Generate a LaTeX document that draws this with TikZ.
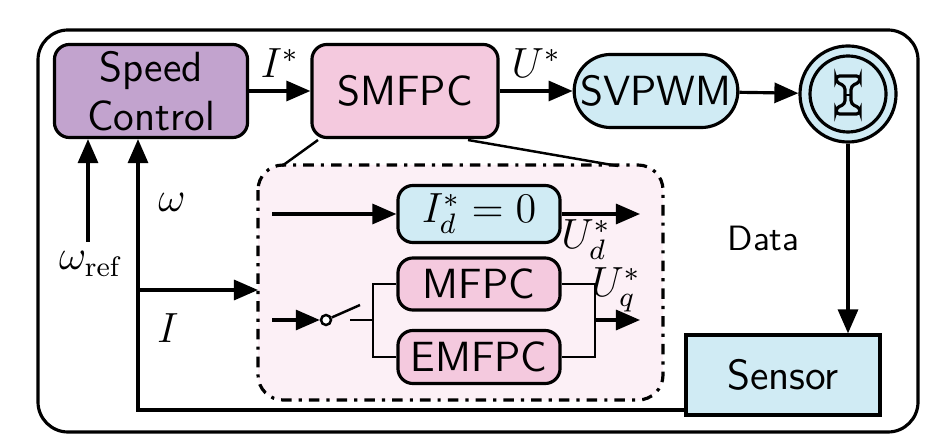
\documentclass[tikz,border=0pt]{standalone}
\usepackage{amsmath}
\usetikzlibrary{shapes.misc,arrows.meta}
\definecolor{ctrlpurple}{HTML}{C2A3CE}
\definecolor{ctrlpink}{HTML}{F4C9DE}
\definecolor{ctrlblue}{HTML}{D0EBF4}
\definecolor{innerpink}{HTML}{FCF0F6}
\tikzset{
  blk/.style={draw,line width=0.9pt,rounded corners=0.15cm,font=\sffamily\large,align=center,inner sep=0pt},
  sig/.style={-{Triangle[length=2.4mm,width=2mm]},line width=0.9pt},
  lbl/.style={font=\large}
}
\begin{document}
\begin{tikzpicture}[x=0.01cm,y=-0.01cm,line width=0.9pt]
\useasboundingbox (0,0) rectangle (940,446);
\draw[rounded corners=0.3cm] (38,30) rectangle (918,432);

\node[blk,fill=ctrlpurple,minimum width=1.93cm,minimum height=0.93cm](speed) at (151,91){Speed\\Control};
\node[blk,fill=ctrlpink,minimum width=1.86cm,minimum height=0.93cm](smfpc) at (405,91){SMFPC};
\node[draw,line width=0.9pt,rounded rectangle,fill=ctrlblue,font=\sffamily\large,minimum width=1.87cm,minimum height=0.73cm](svpwm) at (656,91){SVPWM};
\node[draw,circle,fill=ctrlblue,minimum size=0.96cm](motor) at (848,94){};
\draw (motor.center) circle (38);
% rotor symbol
\draw[line width=0.9pt,rounded corners=1pt] (836,76) -- (860,76) -- (860,82) -- (851,86) -- (851,104) -- (860,108) -- (860,114) -- (836,114) -- (836,108) -- (845,104) -- (845,86) -- (836,82) -- cycle;
\draw[line width=0.8pt] (845,95) -- (851,95);
\node[draw,fill=ctrlblue,minimum width=1.94cm,minimum height=0.8cm,font=\sffamily\large](sensor) at (783,375){Sensor};

% inner dash-dot box
\draw[dash dot,rounded corners=0.25cm,fill=innerpink] (258,165) rectangle (663,400);
\coordinate (bl) at (282,166);
\coordinate (br) at (618,166);
\draw[line width=0.7pt] (318,140) -- (bl);
\draw[line width=0.7pt] (468,140) -- (br);

\node[blk,fill=ctrlblue,minimum width=1.62cm,minimum height=0.57cm,font=\large](idz) at (479,214){$I_d^*=0$};
\node[blk,fill=ctrlpink,minimum width=1.62cm,minimum height=0.52cm](mfpc) at (479,284){MFPC};
\node[blk,fill=ctrlpink,minimum width=1.62cm,minimum height=0.53cm](emfpc) at (479,357){EMFPC};

\coordinate (din) at (272,214);
\coordinate (dout) at (640,214);
\draw[sig] (din) -- (idz);
\draw[sig] (idz) -- (dout);
\node[lbl] at (586,240){$U_d^*$};

% switch
\coordinate (qin) at (272,320);
\node[draw,circle,fill=white,inner sep=0pt,minimum size=0.1cm,line width=0.7pt](sw) at (326,320){};
\coordinate (swend) at (360,305);
\coordinate (swb) at (350,320);
\coordinate (jl) at (373,320);
\coordinate (jr) at (595,320);
\coordinate (qout) at (640,320);
\draw[sig] (qin) -- (sw);
\draw[line width=0.7pt] (sw) -- (swend);
\draw[line width=0.7pt] (swb) -- (jl) |- (mfpc.west);
\draw[line width=0.7pt] (jl) |- (emfpc.west);
\draw[line width=0.7pt] (mfpc.east) -| (jr) |- (emfpc.east);
\draw[sig] (jr) -- (qout);
\node[lbl] at (616,290){$U_q^*$};

% main path
\draw[sig] (speed) -- node[lbl,above]{$I^*$} (smfpc);
\draw[sig] (smfpc) -- node[lbl,above]{$U^*$} (svpwm);
\draw[sig] (svpwm) -- (motor);
\draw[sig] (motor.south) -- node[left=10pt,font=\sffamily]{Data} (motor.south |- sensor.north);

% feedback
\coordinate (fb) at (138,410);
\coordinate (fi) at (138,290);
\coordinate (fo) at (258,290);
\draw[sig] (sensor.south west |- fb) -- (fb) -- (fb |- speed.south);
\draw[sig] (fi) -- (fo);
\node[lbl] at (172,202){$\omega$};
\node[lbl] at (168,328){$I$};
\coordinate (wref) at (88,242);
\draw[sig] (wref) -- (wref |- speed.south);
\node[lbl] at (90,264){$\omega_{\text{ref}}$};
\end{tikzpicture}
\end{document}
